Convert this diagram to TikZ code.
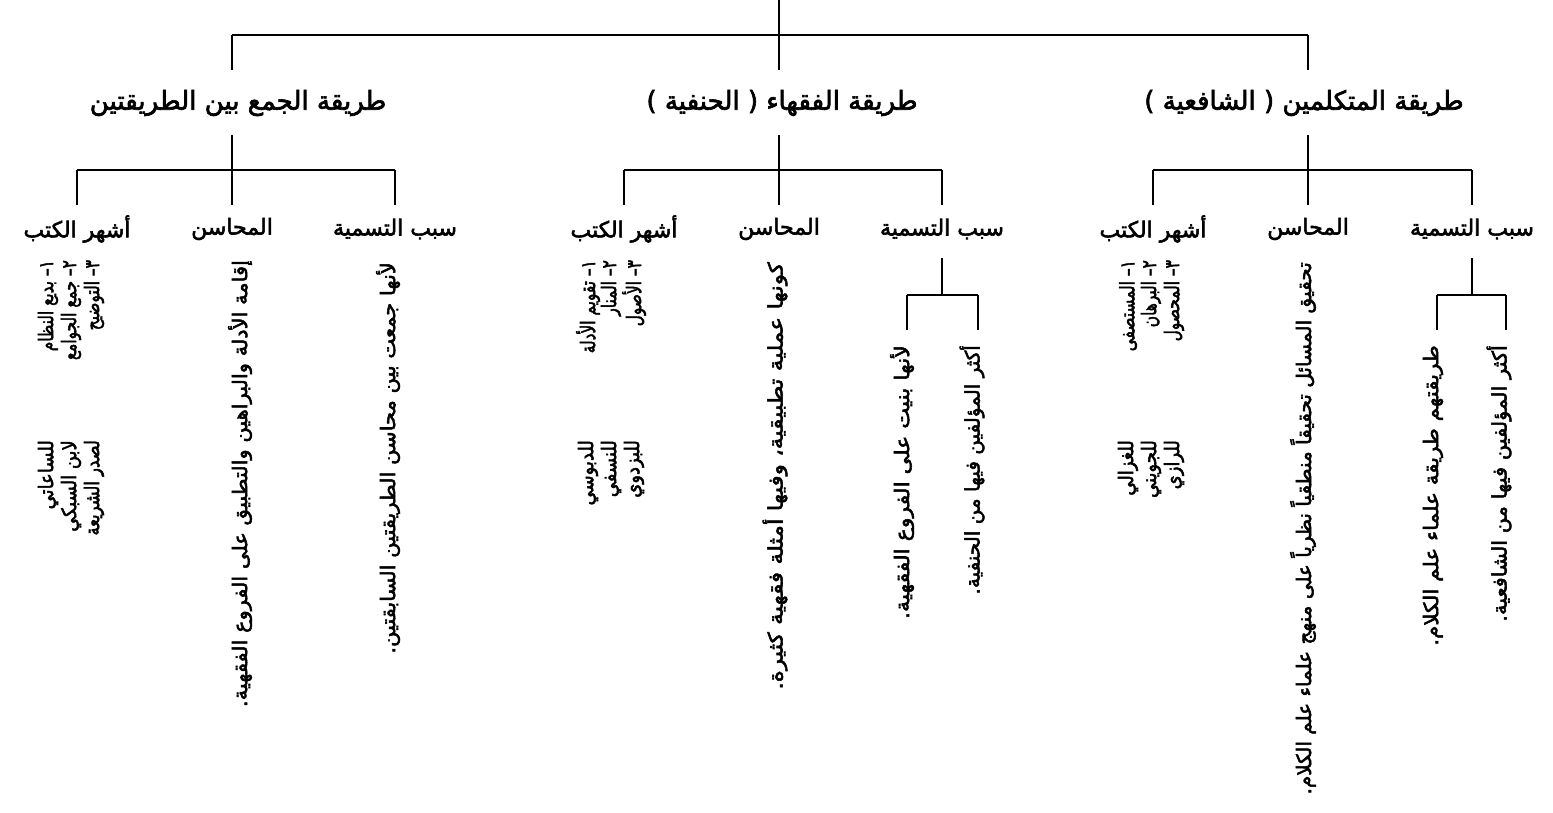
\documentclass[tikz,border=0pt]{standalone}
\usepackage{fontspec}
\TeXXeTstate=1
\newfontfamily\arabicfont[Script=Arabic, FakeBold=2.5]{DejaVu Sans}
\newcommand{\rtl}[1]{\beginR #1\endR}
\tikzset{
  conn/.style={line width=1.8pt},
  lvlone/.style={inner sep=0pt, font=\arabicfont\fontsize{26}{30}\selectfont},
  lvltwo/.style={inner sep=0pt, font=\arabicfont\fontsize{22}{26}\selectfont},
  vtext/.style={rotate=90, anchor=east, inner sep=0pt, font=\arabicfont\fontsize{20}{24}\selectfont},
  btext/.style={rotate=90, anchor=east, inner sep=0pt, font=\arabicfont\fontsize{20}{24}\selectfont},
}
\begin{document}
\begin{tikzpicture}[x=1pt,y=-1pt]
\useasboundingbox (0,0) rectangle (1553,813);
% ---------- level 0 ----------
\coordinate (top) at (779,0);
\coordinate (b0) at (779,35);
\coordinate (b0L) at (232,35);
\coordinate (b0R) at (1308,35);
\coordinate (dL) at (232,70);
\coordinate (dM) at (779,70);
\coordinate (dR) at (1308,70);
\draw[conn] (top) -- (b0);
\draw[conn] (b0L) -- (b0R);
\draw[conn] (b0L) -- (dL);
\draw[conn] (b0) -- (dM);
\draw[conn] (b0R) -- (dR);
% ---------- level 1 ----------
\node[lvlone] (mL) at (238,103) {\rtl{طريقة الجمع بين الطريقتين}};
\node[lvlone] (mM) at (782,103) {\rtl{طريقة الفقهاء ( الحنفية )}};
\node[lvlone] (mR) at (1304,103) {\rtl{طريقة المتكلمين ( الشافعية )}};
% ---------- level 1 -> level 2 ----------
\foreach \g/\xa/\xb/\xc in {L/77/232/395, M/624/779/942, R/1153/1308/1472}{
  \coordinate (u\g) at (\xb,135);
  \coordinate (j\g) at (\xb,170);
  \coordinate (jA\g) at (\xa,170);
  \coordinate (jC\g) at (\xc,170);
  \coordinate (eA\g) at (\xa,205);
  \coordinate (eB\g) at (\xb,205);
  \coordinate (eC\g) at (\xc,205);
  \draw[conn] (u\g) -- (j\g);
  \draw[conn] (jA\g) -- (jC\g);
  \draw[conn] (jA\g) -- (eA\g);
  \draw[conn] (j\g) -- (eB\g);
  \draw[conn] (jC\g) -- (eC\g);
  \node[lvltwo] (kutub\g) at (\xa,229) {\rtl{أشهر الكتب}};
  \node[lvltwo] (mahasin\g) at (\xb,229) {\rtl{المحاسن}};
  \node[lvltwo] (sabab\g) at (\xc,229) {\rtl{سبب التسمية}};
}
% ---------- sub-branches of sabab (M, R) ----------
\foreach \g/\x/\xl/\xr in {M/942/907/978, R/1472/1437/1506}{
  \coordinate (s\g) at (\x,258);
  \coordinate (sj\g) at (\x,295);
  \coordinate (sl\g) at (\xl,295);
  \coordinate (sr\g) at (\xr,295);
  \coordinate (sle\g) at (\xl,330);
  \coordinate (sre\g) at (\xr,330);
  \draw[conn] (s\g) -- (sj\g);
  \draw[conn] (sl\g) -- (sr\g);
  \draw[conn] (sl\g) -- (sle\g);
  \draw[conn] (sr\g) -- (sre\g);
}
% ---------- left group texts ----------
\node[vtext, xscale=1.05] (tsL) at (388,262) {\rtl{لأنها جمعت بين محاسن الطريقتين السابقتين.}};
\node[vtext, xscale=1.05] (thL) at (240,260) {\rtl{إقامة الأدلة والبراهين والتطبيق على الفروع الفقهية.}};
\node[btext, xscale=0.77] (bL1) at (48,260) {\rtl{١– بديع النظام}};
\node[btext, xscale=0.77] (bL2) at (71,260) {\rtl{٢– جمع الجوامع}};
\node[btext, xscale=0.77] (bL3) at (94,260) {\rtl{٣– التوضيح}};
\node[btext, xscale=0.9] (aL1) at (48,440) {\rtl{للساعاتي}};
\node[btext, xscale=0.9] (aL2) at (71,440) {\rtl{لابن السبكي}};
\node[btext, xscale=0.82] (aL3) at (94,440) {\rtl{لصدر الشريعة}};
% ---------- middle group texts ----------
\node[vtext, xscale=1.1] (tsM1) at (902,345) {\rtl{لأنها بنيت على الفروع الفقهية.}};
\node[vtext] (tsM2) at (972,345) {\rtl{أكثر المؤلفين فيها من الحنفية.}};
\node[vtext, xscale=1.16] (thM) at (775,262) {\rtl{كونها عملية تطبيقية، وفيها أمثلة فقهية كثيرة.}};
\node[btext, xscale=0.77] (bM1) at (588,260) {\rtl{١– تقويم الأدلة}};
\node[btext, xscale=0.77] (bM2) at (611,260) {\rtl{٢– المنار}};
\node[btext, xscale=0.77] (bM3) at (634,260) {\rtl{٣– الأصول}};
\node[btext, xscale=0.9] (aM1) at (588,440) {\rtl{للدبوسي}};
\node[btext, xscale=0.9] (aM2) at (611,440) {\rtl{للنسفي}};
\node[btext, xscale=0.9] (aM3) at (634,440) {\rtl{للبزدوي}};
% ---------- right group texts ----------
\node[vtext, xscale=1.07] (tsR1) at (1433,345) {\rtl{طريقتهم طريقة علماء علم الكلام.}};
\node[vtext, xscale=1.05] (tsR2) at (1499,345) {\rtl{أكثر المؤلفين فيها من الشافعية.}};
\node[vtext] (thR) at (1303,262) {\rtl{تحقيق المسائل تحقيقاً منطقياً نظرياً على منهج علماء علم الكلام.}};
\node[btext, xscale=0.77] (bR1) at (1128,260) {\rtl{١– المستصفى}};
\node[btext, xscale=0.77] (bR2) at (1151,260) {\rtl{٢– البرهان}};
\node[btext, xscale=0.77] (bR3) at (1174,260) {\rtl{٣– المحصول}};
\node[btext, xscale=0.9] (aR1) at (1128,440) {\rtl{للغزالي}};
\node[btext, xscale=0.9] (aR2) at (1151,440) {\rtl{للجويني}};
\node[btext, xscale=0.9] (aR3) at (1174,440) {\rtl{للرازي}};
\end{tikzpicture}
\end{document}
